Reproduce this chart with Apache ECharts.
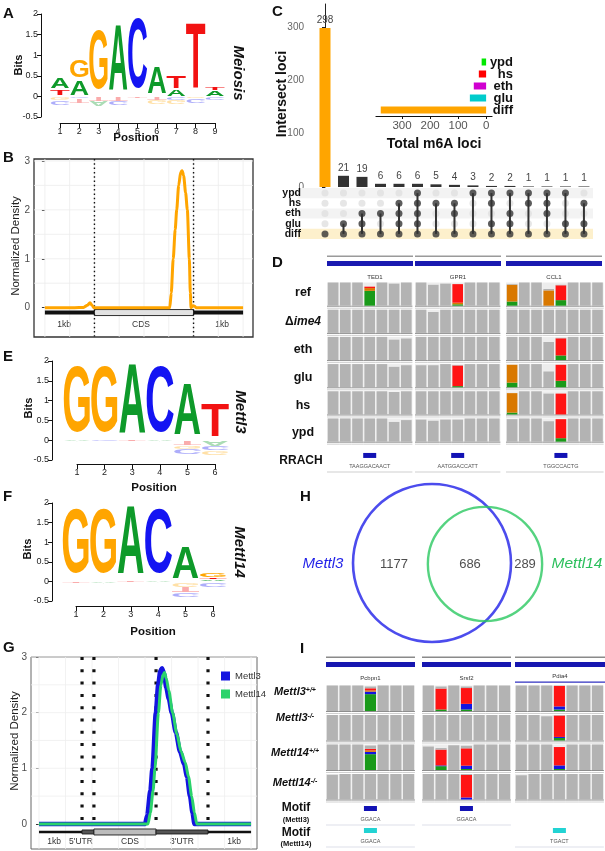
<!DOCTYPE html>
<html>
<head>
<meta charset="utf-8">
<script src="https://cdn.jsdelivr.net/npm/echarts@6/dist/echarts.min.js"></script>
<style>html,body{margin:0;background:#fff}#main{width:605px;height:851px}</style>
</head>
<body>
<div id="main"></div>
<script>
var FONT = '"Liberation Sans", Arial, sans-serif';

// ---- motif logos: [position, base, from, to] in bits (negative = depleted)
var meiosisLogo = [
  [1,'T',0.02,0.17],[1,'A',0.17,0.46],[1,'G',0,-0.08],[1,'C',-0.1,-0.2],
  [2,'A',0,0.41],[2,'G',0.41,0.9],[2,'C',0,-0.05],[2,'T',-0.05,-0.17],
  [3,'G',0,1.7],[3,'T',0,-0.1],[3,'A',-0.1,-0.25],
  [4,'A',0,1.84],[4,'T',0,-0.1],[4,'C',-0.1,-0.2],
  [5,'C',0,2.0],[5,'T',0,-0.04],
  [6,'A',0,0.74],[6,'T',0,-0.08],[6,'G',-0.08,-0.18],
  [7,'A',0,0.17],[7,'T',0.17,0.51],[7,'C',0,-0.08],[7,'G',-0.08,-0.2],
  [8,'T',0,1.86],[8,'G',0,-0.04],[8,'C',-0.04,-0.14],
  [9,'A',0,0.15],[9,'T',0.15,0.23],[9,'C',0,-0.08]
];
var mettl3Logo = [
  [1,'G',0,1.95],[1,'A',0,-0.03],
  [2,'G',0,1.95],[2,'C',0,-0.03],
  [3,'A',0,2.0],[3,'T',0,-0.02],
  [4,'C',0,1.96],[4,'A',0,-0.02],
  [5,'A',0,1.48],[5,'T',0,-0.13],[5,'G',-0.13,-0.2],[5,'C',-0.2,-0.36],
  [6,'T',0,0.96],[6,'A',0,-0.13],[6,'C',-0.13,-0.25],[6,'G',-0.25,-0.38]
];
var mettl14Logo = [
  [1,'G',0,1.95],[1,'T',0,-0.03],
  [2,'G',0,1.95],[2,'A',0,-0.03],
  [3,'A',0,1.98],[3,'T',0,-0.02],
  [4,'C',0,1.95],[4,'A',0,-0.02],
  [5,'A',0,0.93],[5,'G',-0.02,-0.13],[5,'T',-0.13,-0.27],[5,'C',-0.27,-0.4],
  [6,'A',0,0.05],[6,'T',0.05,0.1],[6,'G',0.1,0.22],[6,'C',-0.03,-0.16]
];

// ---- B: meiosis metagene density
var meiosisDensity = [[0,0],[0.6,0],[0.78,0.005],[0.86,0.05],[0.91,0.1],[0.95,0.05],[0.99,0],[1.5,0],[2.0,0],[2.52,0],
  [2.55,0.3],[2.59,1.0],[2.63,1.6],[2.66,2.0],[2.7,2.5],[2.74,2.77],[2.77,2.8],[2.8,2.7],[2.84,2.35],[2.875,2.0],
  [2.915,1.0],[2.935,0.3],[2.95,0],[2.99,0.04],[3.02,0.03],[3.05,0],[3.5,0],[4,0]];
var meiosisGene = [[0,1,0],[1,3,2],[3,4,0]];        // [from, to, kind] 0 flank, 1 UTR, 2 CDS
var meiosisBounds = [1,3];

// ---- G: Mettl3 / Mettl14 metagene density
var mettl3Density = [[0,0],[0.5,0],[0.51,0.15],[0.525,0.6],[0.535,1.0],[0.551,2.0],[0.562,2.5],[0.572,2.75],[0.58,2.8],
  [0.59,2.7],[0.6,2.45],[0.612,2.25],[0.626,2.0],[0.645,1.65],[0.665,1.3],[0.684,1.08],[0.698,0.85],[0.712,0.5],[0.724,0.2],[0.733,0],[1,0]];
var mettl14Density = [[0,0],[0.514,0],[0.525,0.2],[0.538,0.6],[0.547,1.0],[0.563,2.0],[0.575,2.5],[0.585,2.68],[0.592,2.72],
  [0.6,2.62],[0.612,2.4],[0.63,2.0],[0.65,1.62],[0.67,1.3],[0.69,1.1],[0.705,0.85],[0.72,0.5],[0.733,0.2],[0.744,0],[1,0]];
var mettlGene = [[0,0.203,0],[0.203,0.259,1],[0.259,0.552,2],[0.552,0.797,1],[0.797,1,0]];
var mettlBounds = [0.203,0.259,0.552,0.797];

// ---- C: UpSet
var upsetRows = ['ypd','hs','eth','glu','diff'];
var upsetCounts = [298,21,19,6,6,6,5,4,3,2,2,1,1,1,1];
var upsetSets = [['diff'],['glu','diff'],['eth','glu','diff'],['eth','diff'],['hs','eth','glu','diff'],
  ['ypd','hs','eth','glu','diff'],['hs','diff'],['hs','eth','diff'],['ypd','diff'],['ypd','hs','glu','diff'],
  ['ypd','eth','glu','diff'],['ypd','hs','diff'],['ypd','hs','eth','diff'],['ypd','glu','diff'],['hs','glu','diff']];
var setTotals = [16,26,44,58,376];
var setColors = ['#00E800','#FF0000','#D000D0','#00CCCC','#FFA500'];

// ---- D: IGV tracks (coverage fraction per column; mismatch [row, col, A, C, G, T])
var dRows = ['ref','Δime4','eth','glu','hs','ypd'];
var dGenes = ['TED1','GPR1','CCL1'];
var dGeneCols = [7,7,8];
var dCoverage = [
  [1,1,1,0.82,1,0.95,1, 1,0.9,0.95,0.93,1,1,1, 0.93,1,1,0.72,0.9,1,1,1],
  [1,1,1,1,1,1,1, 1,0.9,1,1,1,1,1, 1,1,1,1,1,1,1,1],
  [1,1,1,1,1,0.88,0.93, 1,1,1,1,1,1,1, 1,1,1,0.78,0.96,1,1,1],
  [1,1,1,1,1,0.88,0.95, 0.95,0.95,1,0.96,1,1,1, 0.97,1,1,0.68,0.97,1,1,1],
  [1,1,1,1,1,0.97,1, 1,1,1,1,1,1,1, 0.92,1,1,0.9,0.9,1,1,1],
  [1,1,1,1,1,0.85,0.93, 0.95,0.9,0.95,0.95,1,1,1, 0.97,1,1,0.88,0.97,1,1,1]
];
var dMismatch = [
  [0,3,0.64,0,0.12,0.06],[0,10,0.06,0,0.07,0.8],[0,14,0.18,0,0.72,0],[0,17,0,0,0.66,0],[0,18,0.24,0,0,0.64],
  [2,18,0.2,0,0,0.74],[3,10,0.05,0,0,0.89],[3,14,0.2,0,0.77,0],[3,18,0.28,0,0,0.69],
  [4,14,0.08,0,0.84,0],[4,18,0,0,0,0.9],[5,18,0.15,0,0,0.82]
];
var dMotif = [[3,'TAAGGACAACT'],[10,'AATGGACCATT'],[18,'TGGCCACTG']];

// ---- H: Venn
var vennNames = ['Mettl3','Mettl14'];
var vennOnly = [1177,289];
var vennBoth = 686;

// ---- I: IGV tracks
var iRows = ['Mettl3','Mettl3','Mettl14','Mettl14'];
var iGeno = ['+/+','-/-','+/+','-/-'];
var iGenes = ['Pcbpn1','Srsf2','Pdia4'];
var iGeneCols = [7,7,7];
var iCoverage = [
  [1,1,1,0.96,1,1,1, 1,0.96,1,0.96,1,1,1, 1,1,1,1,1,1,1],
  [1,1,1,1,1,1,1, 1,1,1,1,1,1,1, 1,1,0.95,1,1,1,1],
  [1,1,1,0.96,1,1,1, 0.92,0.86,0.97,0.95,1,1,1, 1,1,1,0.9,1,1,1],
  [0.97,1,1,1,1,1,1, 1,1,1,1,1,1,1, 0.95,1,1,1,1,1,1]
];
var iMismatch = [
  [0,3,0.66,0.1,0.05,0.08],[0,8,0.06,0,0,0.82],[0,10,0.06,0.22,0,0.62],[0,17,0.06,0.12,0,0.8],
  [1,17,0.1,0.04,0,0.84],[2,3,0.62,0.09,0.06,0.06],[2,8,0.15,0.03,0,0.62],[2,10,0.04,0.13,0,0.68],
  [2,17,0.04,0.14,0,0.72],[3,10,0,0.08,0,0.88]
];
var iMotifMettl3 = [[3,'GGACA'],[10,'GGACA']];
var iMotifMettl14 = [[3,'GGACA'],[17,'TGACT']];

var BASE_COLOR = {A:'#0E9A2A', C:'#1414F2', G:'#FFA500', T:'#F21212'};
var IGV_COLOR = {A:'#1A9A1A', C:'#1414E0', G:'#D97800', T:'#FF1414'};
// glyph box of the bold font, in em (measured on the rendered page)
var INK_W = {A:0.70, C:0.65, G:0.70, T:0.58};
var CAP_H = {A:0.81, C:0.84, G:0.84, T:0.82};
var CAP_DY = 4.5;

var chart = echarts.init(document.getElementById('main'));

function logoSeries(logo, axis) {
  return {
    type: 'custom', xAxisIndex: axis, yAxisIndex: axis, silent: true, z: 3,
    data: logo.map(function (d) { return [d[0], d[2], d[3]]; }),
    renderItem: function (params, api) {
      var d = logo[params.dataIndex];
      var lo = Math.min(d[2], d[3]), hi = Math.max(d[2], d[3]);
      var a = api.coord([d[0] - 0.5, hi]), b = api.coord([d[0] + 0.5, lo]);
      var w = (b[0] - a[0]) * 0.97, h = b[1] - a[1];
      var neg = hi <= 0;
      return {
        type: 'text', x: (a[0] + b[0]) / 2, y: (a[1] + b[1]) / 2,
        scaleX: w / (100 * INK_W[d[1]]), scaleY: (neg ? -1 : 1) * h / (100 * CAP_H[d[1]]),
        style: {text: d[1], x: 0, y: CAP_DY, fontSize: 100, fontWeight: 'bold', fontFamily: 'Liberation Sans',
          fill: BASE_COLOR[d[1]], opacity: neg ? 0.35 : 1, align: 'center', verticalAlign: 'middle'}
      };
    }
  };
}

function rulesSeries(axis, xs, ys, color) {
  var items = xs.map(function (v) { return [v, 0, 0]; }).concat(ys.map(function (v) { return [0, v, 1]; }));
  return {
    type: 'custom', xAxisIndex: axis, yAxisIndex: axis, silent: true, z: 1, data: items,
    renderItem: function (params, api) {
      var d = items[params.dataIndex], cs = params.coordSys;
      if (d[2] === 0) {
        var x = api.coord([d[0], 0])[0];
        return {type: 'line', shape: {x1: x, y1: cs.y, x2: x, y2: cs.y + cs.height}, style: {stroke: color, lineWidth: 0.8}};
      }
      var y = api.coord([0, d[1]])[1];
      return {type: 'line', shape: {x1: cs.x, y1: y, x2: cs.x + cs.width, y2: y}, style: {stroke: color, lineWidth: 0.8}};
    }
  };
}

function geneSeries(axis, gene, yVal, hs, fills) {
  return {
    type: 'custom', xAxisIndex: axis, yAxisIndex: axis, silent: true, z: 4,
    data: gene.map(function (g) { return [g[0], yVal]; }),
    renderItem: function (params, api) {
      var g = gene[params.dataIndex];
      var a = api.coord([g[0], yVal]), b = api.coord([g[1], yVal]);
      var h = hs[g[2]];
      return {type: 'rect', shape: {x: a[0], y: a[1] - h / 2, width: b[0] - a[0], height: h},
        style: {fill: fills[g[2]], stroke: g[2] === 0 ? null : '#1a1a1a', lineWidth: 0.9}};
    }
  };
}

function boundSeries(axis, bounds, top, bottom, dash, width) {
  return bounds.map(function (b) {
    return {type: 'line', xAxisIndex: axis, yAxisIndex: axis, silent: true, z: 5, showSymbol: false,
      data: [[b, top], [b, bottom]], lineStyle: {color: '#111', width: width, type: dash, cap: 'butt'}};
  });
}

function cellX(col, cols, starts) {
  var b = 0, c = col;
  while (c >= cols[b]) { c -= cols[b]; b++; }
  return {b: b, x: starts[b] + c};
}

function igvSeries(axis, coverage, mismatch, cols, starts) {
  var mm = {};
  mismatch.forEach(function (m) { mm[m[0] + '_' + m[1]] = m; });
  var items = [];
  coverage.forEach(function (row, r) {
    row.forEach(function (h, c) { items.push([cellX(c, cols, starts).x, r, h, c]); });
  });
  return {
    type: 'custom', xAxisIndex: axis, yAxisIndex: axis, silent: true, data: items,
    renderItem: function (params, api) {
      var d = items[params.dataIndex];
      var p0 = api.coord([d[0], d[1]]), p1 = api.coord([d[0] + 1, d[1] + 1]);
      var top = p0[1] + 1.5, bot = p1[1] - 2.5, H = bot - top;
      var L = p0[0], W = p1[0] - p0[0];
      var ch = [
        {type: 'rect', shape: {x: L, y: top, width: W, height: H}, style: {fill: '#ededed'}},
        {type: 'rect', shape: {x: L, y: bot, width: W, height: 1}, style: {fill: '#8e8e8e'}},
        {type: 'rect', shape: {x: L, y: bot + 2, width: W, height: 1}, style: {fill: '#d0d0d0'}}
      ];
      var bx = L + 0.8, bw = W - 1.6, y = bot, used = 0;
      var m = mm[d[1] + '_' + d[3]];
      if (m) {
        ['A', 'C', 'G', 'T'].forEach(function (base, k) {
          var f = m[2 + k];
          if (f > 0) {
            ch.push({type: 'rect', shape: {x: bx, y: y - f * H, width: bw, height: f * H}, style: {fill: IGV_COLOR[base]}});
            y -= f * H; used += f;
          }
        });
      }
      if (d[2] - used > 0.001) {
        ch.push({type: 'rect', shape: {x: bx, y: y - (d[2] - used) * H, width: bw, height: (d[2] - used) * H}, style: {fill: '#b3b3b3'}});
      }
      return {type: 'group', children: ch};
    }
  };
}

function featureSeries(axis, list, cols, starts, yUnit, color, lineColor) {
  return {
    type: 'custom', xAxisIndex: axis, yAxisIndex: axis, silent: true,
    data: list.map(function (f) { return [cellX(f[0], cols, starts).x + 0.5, yUnit]; }),
    renderItem: function (params, api) {
      var f = list[params.dataIndex], cx = cellX(f[0], cols, starts);
      var p = api.coord([cx.x + 0.5, yUnit]);
      var a = api.coord([starts[cx.b], yUnit]), b = api.coord([starts[cx.b] + cols[cx.b], yUnit]);
      return {type: 'group', children: [
        {type: 'rect', shape: {x: p[0] - 6.5, y: p[1] - 2.5, width: 13, height: 5}, style: {fill: color}},
        {type: 'text', x: p[0], y: p[1] + 11, style: {text: f[1], fontSize: 5.5, fill: '#555', align: 'center', verticalAlign: 'middle', fontFamily: 'Liberation Sans'}},
        {type: 'rect', shape: {x: a[0], y: p[1] + 16, width: b[0] - a[0], height: 1}, style: {fill: lineColor}}
      ]};
    }
  };
}

function range(a, b, s) { var r = []; for (var v = a; v <= b + 1e-9; v += s) r.push(+v.toFixed(4)); return r; }

function txt(x, y, text, size, opt) {
  opt = opt || {};
  return {type: 'text', x: x, y: y, rotation: opt.rot || 0, silent: true,
    style: {text: text, fontSize: size, fontWeight: opt.weight || 'normal', fontStyle: opt.italic ? 'italic' : 'normal',
      fill: opt.color || '#111', align: opt.align || 'center', verticalAlign: 'middle', fontFamily: FONT, rich: opt.rich}};
}
function box(x, y, w, h, fill) {
  return {type: 'rect', silent: true, shape: {x: x, y: y, width: w, height: h}, style: {fill: fill}};
}

var tickAxis = function (g, min, max, interval) {
  return {gridIndex: g, type: 'value', min: min, max: max, interval: interval,
    axisLine: {lineStyle: {color: '#111', width: 1}}, axisTick: {length: 5, lineStyle: {color: '#111'}},
    axisLabel: {fontSize: 9, color: '#222', margin: 4}, splitLine: {show: false}};
};
var bitsAxis = function (g) {
  return {gridIndex: g, type: 'value', min: -0.5, max: 2, interval: 0.5,
    axisLine: {show: true, lineStyle: {color: '#111', width: 1}}, axisTick: {show: true, length: 4, lineStyle: {color: '#111'}},
    axisLabel: {fontSize: 9, color: '#222', margin: 3}, splitLine: {show: false}};
};
var hidden = function (g, min, max, inv) { return {gridIndex: g, type: 'value', min: min, max: max, inverse: !!inv, show: false}; };

var upsetActive = [], upsetInactive = [], upsetLinks = [];
upsetSets.forEach(function (s, c) {
  var idx = [];
  upsetRows.forEach(function (r, ri) {
    if (s.indexOf(r) >= 0) { upsetActive.push([c, ri]); idx.push(ri); } else upsetInactive.push([c, ri]);
  });
  upsetLinks.push([c, Math.min.apply(null, idx), Math.max.apply(null, idx)]);
});
var bandColors = {0: '#f3f3f3', 2: '#f3f3f3', 4: '#FDF0CC'};

var dStarts = [0, 7.21, 14.67];
var iStarts = [0, 7.56, 14.88];

var graphics = [];
// panel letters
[['A',3,14],['B',3,158],['C',272,12],['D',272,263],['E',3,357],['F',3,497],['G',3,648],['H',300,497],['I',300,649]].forEach(function (p) {
  graphics.push(txt(p[1], p[2], p[0], 15, {weight: 'bold', align: 'left'}));
});
// A
graphics.push(txt(19, 65, 'Bits', 11, {weight: 'bold', rot: Math.PI / 2}));
graphics.push(txt(136, 138, 'Position', 11.5, {weight: 'bold'}));
graphics.push(txt(238, 73, 'Meiosis', 15, {weight: 'bold', italic: true, rot: -Math.PI / 2}));
// B
graphics.push(txt(16, 246, 'Normalized Density', 11.5, {rot: Math.PI / 2, color: '#222'}));
graphics.push(txt(64, 325, '1kb', 8.5, {color: '#333'}));
graphics.push(txt(141, 325, 'CDS', 8.5, {color: '#333'}));
graphics.push(txt(222, 325, '1kb', 8.5, {color: '#333'}));
// C
graphics.push(txt(282, 94, 'Intersect loci', 14, {weight: 'bold', rot: Math.PI / 2}));
graphics.push(txt(434, 144, 'Total m6A loci', 14, {weight: 'bold'}));
// D
[[327,413],[415,501],[506,602]].forEach(function (b, i) {
  graphics.push(box(b[0], 255.5, b[1] - b[0], 1.5, '#9a9a9a'));
  graphics.push(box(b[0], 261, b[1] - b[0], 5, '#1a1ab0'));
  graphics.push(txt((b[0] + b[1]) / 2 + (i === 0 ? 5 : 0), 277, dGenes[i], 6, {color: '#333'}));
});
var dLabelY = [293, 322, 350, 378, 406, 433];
dRows.forEach(function (r, i) {
  if (i === 1) {
    graphics.push(txt(303, dLabelY[i], '{d|Δ}{i|ime4}', 12, {rich: {d: {fontSize: 12, fontWeight: 'bold', fontFamily: FONT}, i: {fontSize: 12, fontWeight: 'bold', fontStyle: 'italic', fontFamily: FONT}}}));
  } else {
    graphics.push(txt(303, dLabelY[i], r, 12.5, {weight: 'bold'}));
  }
});
graphics.push(txt(301, 461, 'RRACH', 12, {weight: 'bold'}));
// E, F
graphics.push(txt(29, 408, 'Bits', 11, {weight: 'bold', rot: Math.PI / 2}));
graphics.push(txt(154, 488, 'Position', 11.5, {weight: 'bold'}));
graphics.push(txt(240, 412, 'Mettl3', 15, {weight: 'bold', italic: true, rot: -Math.PI / 2}));
graphics.push(txt(28, 549, 'Bits', 11, {weight: 'bold', rot: Math.PI / 2}));
graphics.push(txt(153, 632, 'Position', 11.5, {weight: 'bold'}));
graphics.push(txt(239, 552, 'Mettl14', 15, {weight: 'bold', italic: true, rot: -Math.PI / 2}));
// G
graphics.push(txt(15, 741, 'Normalized Density', 11.5, {rot: Math.PI / 2, color: '#222'}));
[['1kb',54],["5'UTR",81],['CDS',130],["3'UTR",182],['1kb',234]].forEach(function (l) {
  graphics.push(txt(l[1], 842, l[0], 8.5, {color: '#333'}));
});
// H
graphics.push(txt(323, 564, vennNames[0], 15, {italic: true, color: '#1F1FE8'}));
graphics.push(txt(577, 564, vennNames[1], 15.5, {italic: true, color: '#2BBF5C'}));
// I
[[326,415],[422,511],[515,605]].forEach(function (b, i) {
  graphics.push(box(b[0], 656.5, b[1] - b[0], 1.5, '#8a8a8a'));
  graphics.push(box(b[0], 662, b[1] - b[0], 5, '#1616b0'));
  graphics.push(txt((b[0] + b[1]) / 2, i === 2 ? 676 : 678, iGenes[i], 6, {color: '#333'}));
});
graphics.push(box(515, 681.5, 90, 1.2, '#3030c0'));
var iLabelY = [692, 718, 753, 783];
var richLab = {a: {fontSize: 11, fontWeight: 'bold', fontStyle: 'italic', fontFamily: FONT},
  s: {fontSize: 7, fontWeight: 'bold', fontStyle: 'italic', fontFamily: FONT, verticalAlign: 'top'}};
iRows.forEach(function (r, i) {
  graphics.push(txt(295, iLabelY[i], '{a|' + r + '}{s|' + iGeno[i] + '}', 11, {rich: richLab}));
});
graphics.push(txt(296, 808, 'Motif', 12, {weight: 'bold'}));
graphics.push(txt(296, 820, '(Mettl3)', 7.5, {weight: 'bold'}));
graphics.push(txt(296, 833, 'Motif', 12, {weight: 'bold'}));
graphics.push(txt(296, 844, '(Mettl14)', 7.5, {weight: 'bold'}));

var option = {
  animation: false,
  backgroundColor: '#fff',
  textStyle: {fontFamily: FONT},
  legend: {data: ['Mettl3', 'Mettl14'], left: 216, top: 666, orient: 'vertical', icon: 'rect',
    itemWidth: 9, itemHeight: 9, itemGap: 8, selectedMode: false, textStyle: {fontSize: 9.5, color: '#333'}},
  grid: [
    {left: 41, top: 14, width: 185.6, height: 103},
    {left: 60, top: 122, width: 155, height: 1},
    {left: 52, top: 361, width: 179.6, height: 99},
    {left: 77, top: 463, width: 138, height: 1},
    {left: 52, top: 503, width: 177.4, height: 98},
    {left: 76, top: 605, width: 137, height: 1},
    {left: 34, top: 159, width: 219, height: 178, show: true, borderColor: '#333', borderWidth: 1.3},
    {left: 31, top: 657, width: 226, height: 192, show: true, borderColor: '#666', borderWidth: 1},
    {left: 307, top: 4, width: 286, height: 183},
    {left: 307, top: 188, width: 286, height: 51},
    {left: 376, top: 56, width: 116, height: 60},
    {left: 327, top: 281, width: 276, height: 195.8},
    {left: 326, top: 684, width: 279, height: 165.2},
    {left: 300, top: 470, width: 305, height: 175}
  ],
  xAxis: [
    hidden(0, 0.02, 9.6),
    tickAxis(1, 1, 9, 1),
    hidden(2, 0.094, 6.6),
    tickAxis(3, 1, 6, 1),
    hidden(4, 0.124, 6.6),
    tickAxis(5, 1, 6, 1),
    hidden(6, -0.22, 4.2),
    hidden(7, -0.0377, 1.028),
    hidden(8, -0.973, 14.49),
    hidden(9, -0.973, 14.49),
    {gridIndex: 10, type: 'value', min: -21, max: 393, inverse: true,
      axisLine: {show: true, lineStyle: {color: '#111', width: 1.2}},
      axisTick: {show: true, customValues: [0, 100, 200, 300], length: 3, lineStyle: {color: '#111'}},
      axisLabel: {customValues: [0, 100, 200, 300], fontSize: 11.5, color: '#555', margin: 4},
      splitLine: {show: false}},
    hidden(11, 0, 22.62),
    hidden(12, 0, 21.97),
    hidden(13, 0, 305)
  ],
  yAxis: [
    bitsAxis(0),
    hidden(1, 0, 1),
    bitsAxis(2),
    hidden(3, 0, 1),
    bitsAxis(4),
    hidden(5, 0, 1),
    {gridIndex: 6, type: 'value', min: -0.6, max: 3.04, axisLine: {show: false},
      axisTick: {show: true, customValues: [0, 1, 2, 3], length: 3, lineStyle: {color: '#333'}},
      axisLabel: {customValues: [0, 1, 2, 3], fontSize: 10, color: '#4d4d4d', margin: 4}, splitLine: {show: false}},
    {gridIndex: 7, type: 'value', min: -0.45, max: 3, axisLine: {show: false},
      axisTick: {show: true, customValues: [0, 1, 2, 3], length: 3, lineStyle: {color: '#333'}},
      axisLabel: {customValues: [0, 1, 2, 3], fontSize: 10, color: '#4d4d4d', margin: 4}, splitLine: {show: false}},
    {gridIndex: 8, type: 'value', min: 0, max: 343, axisLine: {show: true, lineStyle: {color: '#222', width: 1}},
      axisTick: {show: true, customValues: [0, 100, 200, 300], length: 3, lineStyle: {color: '#222'}},
      axisLabel: {customValues: [0, 100, 200, 300], fontSize: 10, color: '#666', margin: 3}, splitLine: {show: false}},
    {gridIndex: 9, type: 'category', data: upsetRows, inverse: true, axisLine: {show: false}, axisTick: {show: false}, z: 5,
      axisLabel: {interval: 0, fontSize: 10.5, fontWeight: 'bold', color: '#111', margin: 6, lineHeight: 10}},
    {gridIndex: 10, type: 'category', data: upsetRows, inverse: true, position: 'right', axisLine: {show: false},
      axisTick: {show: false}, axisLabel: {interval: 0, fontSize: 13, fontWeight: 'bold', color: '#111', align: 'right', margin: 21, lineHeight: 12}},
    hidden(11, 0, 7.2, true),
    hidden(12, 0, 5.6, true),
    hidden(13, 0, 175, true)
  ],
  graphic: {elements: graphics},
  series: [
    logoSeries(meiosisLogo, 0),
    logoSeries(mettl3Logo, 2),
    logoSeries(mettl14Logo, 4),

    // B
    rulesSeries(6, range(0, 4, 0.5), range(0.5, 3, 0.5), '#ececec'),
    geneSeries(6, meiosisGene, -0.1, [4, 4, 6], ['#111', '#555', '#e2e2e2'])
  ].concat(boundSeries(6, meiosisBounds, 3.04, -0.6, [1.5, 2.8], 1.4)).concat([
    {type: 'line', xAxisIndex: 6, yAxisIndex: 6, name: 'Meiosis', data: meiosisDensity, showSymbol: false, z: 6,
      smooth: 0.25, smoothMonotone: 'x', lineStyle: {color: '#FFA500', width: 3}, itemStyle: {color: '#FFA500'}},

    // G
    rulesSeries(7, range(0, 1, 0.125), range(0.5, 3, 0.5), '#efefef'),
    geneSeries(7, mettlGene, -0.144, [2.5, 4, 6], ['#111', '#555', '#bcbcbc'])
  ]).concat(boundSeries(7, mettlBounds, 3, 0.05, [3, 9.3], 3.2)).concat([
    {type: 'line', xAxisIndex: 7, yAxisIndex: 7, name: 'Mettl3', data: mettl3Density, showSymbol: false, z: 6,
      smooth: 0.25, smoothMonotone: 'x', lineStyle: {color: '#1414E0', width: 4.5}, itemStyle: {color: '#1414E0'}},
    {type: 'line', xAxisIndex: 7, yAxisIndex: 7, name: 'Mettl14', data: mettl14Density, showSymbol: false, z: 7,
      smooth: 0.25, smoothMonotone: 'x', lineStyle: {color: '#2BD36B', width: 3}, itemStyle: {color: '#2BD36B'}},

    // C
    {type: 'bar', xAxisIndex: 8, yAxisIndex: 8, barWidth: 11, silent: true,
      data: upsetCounts.map(function (v, i) { return {value: [i, v], itemStyle: {color: i === 0 ? '#FFA500' : '#333'}}; }),
      label: {show: true, position: 'top', distance: 3, fontSize: 10, color: '#444', formatter: function (p) { return p.value[1]; }}},
    {type: 'custom', xAxisIndex: 9, yAxisIndex: 9, silent: true, z: 1,
      data: [[0, 0], [0, 2], [0, 4]],
      renderItem: function (params, api) {
        var row = [0, 2, 4][params.dataIndex], cs = params.coordSys;
        var y = api.coord([0, row])[1], h = api.size([0, 1])[1];
        return {type: 'rect', shape: {x: cs.x - 9, y: y - h / 2, width: cs.width + 9, height: h}, style: {fill: bandColors[row]}};
      }},
    {type: 'scatter', xAxisIndex: 9, yAxisIndex: 9, silent: true, symbolSize: 7, data: upsetInactive, itemStyle: {color: '#e0e0e0'}, z: 2},
    {type: 'custom', xAxisIndex: 9, yAxisIndex: 9, silent: true, z: 3, data: upsetLinks,
      renderItem: function (params, api) {
        var l = upsetLinks[params.dataIndex];
        var a = api.coord([l[0], l[1]]), b = api.coord([l[0], l[2]]);
        return {type: 'line', shape: {x1: a[0], y1: a[1], x2: b[0], y2: b[1]}, style: {stroke: '#333', lineWidth: 2}};
      }},
    {type: 'scatter', xAxisIndex: 9, yAxisIndex: 9, silent: true, symbolSize: 7, data: upsetActive, itemStyle: {color: '#333'}, z: 4},
    {type: 'bar', xAxisIndex: 10, yAxisIndex: 10, barWidth: 7, silent: true,
      data: setTotals.map(function (v, i) { return {value: v, itemStyle: {color: setColors[i]}}; })},

    // D
    igvSeries(11, dCoverage, dMismatch, dGeneCols, dStarts),
    featureSeries(11, dMotif, dGeneCols, dStarts, 6.415, '#1212B4', '#d0d0d0'),

    // I
    igvSeries(12, iCoverage, iMismatch, iGeneCols, iStarts),
    featureSeries(12, iMotifMettl3, iGeneCols, iStarts, 4.22, '#1212B4', '#dde0ea'),
    featureSeries(12, iMotifMettl14, iGeneCols, iStarts, 4.966, '#22D3D3', '#dde0ea'),

    // H
    {type: 'scatter', xAxisIndex: 13, yAxisIndex: 13, silent: true, z: 2,
      data: [
        {value: [132, 93], symbolSize: 3.66 * Math.sqrt(vennOnly[0] + vennBoth), itemStyle: {color: 'rgba(0,0,0,0)', borderColor: '#1F1FE8', borderWidth: 2.6}},
        {value: [185, 94], symbolSize: 3.66 * Math.sqrt(vennOnly[1] + vennBoth), itemStyle: {color: 'rgba(0,0,0,0)', borderColor: '#2BC860', borderWidth: 2.4}}
      ]},
    {type: 'scatter', xAxisIndex: 13, yAxisIndex: 13, silent: true, z: 3, symbolSize: 1,
      itemStyle: {color: 'rgba(0,0,0,0)'},
      data: [[94, 94, vennOnly[0]], [170, 94, vennBoth], [225, 94, vennOnly[1]]],
      label: {show: true, position: 'inside', fontSize: 13, color: '#222', formatter: function (p) { return p.value[2]; }}}
  ])
};

chart.setOption(option);
</script>
</body>
</html>
